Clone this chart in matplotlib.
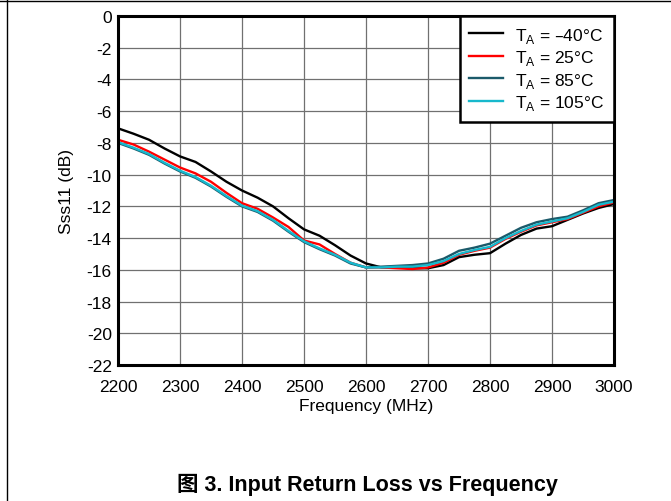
import matplotlib
matplotlib.use("Agg")
import matplotlib.pyplot as plt
from matplotlib.lines import Line2D

plt.rcParams['font.family'] = ['Liberation Sans', 'Noto Sans CJK SC', 'DejaVu Sans']
plt.rcParams['axes.unicode_minus'] = False

freq = [2200, 2225, 2250, 2275, 2300, 2325, 2350, 2375, 2400, 2425, 2450,
        2475, 2500, 2525, 2550, 2575, 2600, 2625, 2650, 2675, 2700, 2725,
        2750, 2775, 2800, 2825, 2850, 2875, 2900, 2925, 2950, 2975, 3000]

s11_m40 = [-7.08, -7.42, -7.8, -8.35, -8.85, -9.2, -9.8, -10.45, -11.0, -11.45, -12.0,
           -12.75, -13.45, -13.85, -14.45, -15.1, -15.6, -15.85, -15.85, -15.9, -15.9, -15.7,
           -15.2, -15.05, -14.95, -14.35, -13.8, -13.4, -13.25, -12.85, -12.45, -12.1, -11.85]
s11_25 = [-7.8, -8.1, -8.55, -9.05, -9.55, -9.92, -10.45, -11.15, -11.8, -12.15, -12.7,
          -13.3, -14.15, -14.4, -15.0, -15.55, -15.85, -15.85, -15.9, -15.95, -15.85, -15.55,
          -15.05, -14.8, -14.6, -14.05, -13.6, -13.2, -13.0, -12.8, -12.4, -12.0, -11.75]
s11_85 = [-8.0, -8.35, -8.75, -9.3, -9.8, -10.2, -10.75, -11.4, -12.0, -12.35, -12.9,
          -13.6, -14.25, -14.7, -15.1, -15.6, -15.85, -15.8, -15.75, -15.7, -15.6, -15.3,
          -14.8, -14.6, -14.35, -13.85, -13.35, -13.0, -12.8, -12.65, -12.25, -11.8, -11.6]
s11_105 = [-7.95, -8.3, -8.7, -9.25, -9.75, -10.15, -10.7, -11.35, -11.95, -12.3, -12.85,
           -13.55, -14.2, -14.65, -15.05, -15.55, -15.85, -15.85, -15.8, -15.8, -15.7, -15.45,
           -15.0, -14.75, -14.55, -14.0, -13.55, -13.15, -12.95, -12.75, -12.35, -11.9, -11.7]

labels = [r'T$_\mathregular{A}$ = –40°C', r'T$_\mathregular{A}$ = 25°C',
          r'T$_\mathregular{A}$ = 85°C', r'T$_\mathregular{A}$ = 105°C']
colors = ['#000000', '#ff0000', '#1b5a6a', '#17b8cc']

fig = plt.figure(figsize=(6.71, 5.02), dpi=100)
ax = fig.add_axes([0.1759, 0.2709, 0.7392, 0.6952])

for ys, c, lab in zip([s11_m40, s11_25, s11_85, s11_105], colors, labels):
    ax.plot(freq, ys, color=c, lw=1.7, label=lab)

ax.set_xlim(2200, 3000)
ax.set_ylim(-22, 0)
ax.set_xticks(range(2200, 3001, 100))
ax.set_yticks(range(-22, 1, 2))
ax.grid(True, color='#707070', lw=0.9)
ax.set_axisbelow(True)
ax.tick_params(length=0, labelsize=12.5)
ax.tick_params(axis='x', pad=10)
ax.tick_params(axis='y', pad=4.5)
for sp in ax.spines.values():
    sp.set_linewidth(2.2)
ax.set_xlabel('Frequency (MHz)', fontsize=12.5, labelpad=3)
ax.set_ylabel('Sss11 (dB)', fontsize=12.5, labelpad=9)

leg = ax.legend(loc='upper right', fontsize=12.5, frameon=True, fancybox=False,
                framealpha=1, edgecolor='black', borderaxespad=0,
                handlelength=1.95, handletextpad=0.7, labelspacing=0.2,
                borderpad=0.55)
leg.get_frame().set_linewidth(1.8)

fig.text(0.548, 0.022, '图 3. Input Return Loss vs Frequency', ha='center',
         fontsize=15.5, fontweight='bold')

# page frame lines
fig.add_artist(Line2D([0, 1], [0.997, 0.997], color='black', lw=1,
                      transform=fig.transFigure))
fig.add_artist(Line2D([0.0105, 0.0105], [0, 1], color='black', lw=1,
                      transform=fig.transFigure))

fig.savefig('out.png', dpi=100)
